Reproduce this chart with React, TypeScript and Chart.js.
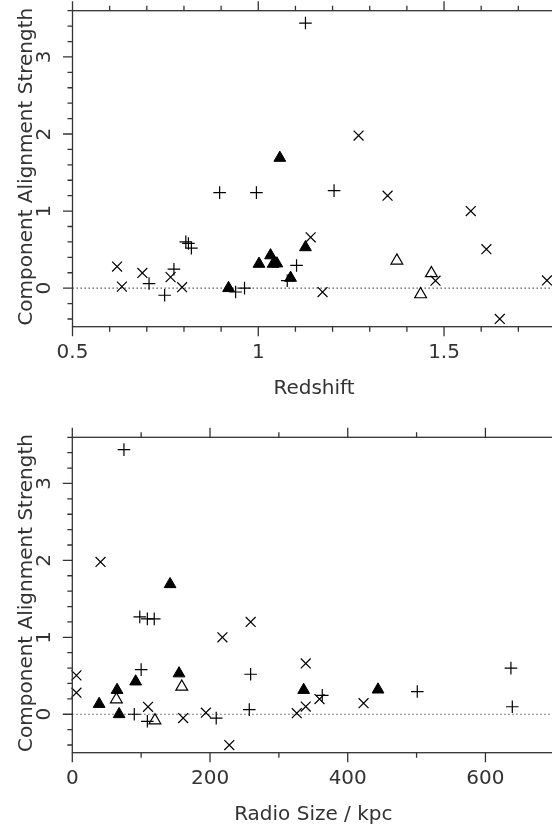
import React, { useEffect, useRef } from "react";
import { Chart, registerables } from "chart.js";
Chart.register(...registerables);

// ---- data: "+" sources ----
const plusRedshift = [1.127, 0.896, 0.995, 1.204, 0.805, 0.812, 0.82, 0.773, 0.706, 0.748, 0.939, 0.963, 1.103, 1.078];
const plusSize = [75, 109, 119, 98, 637, 100, 259, 363, 257, 109, 209, 90, 501, 639];
const plusStrength = [3.44, 1.24, 1.24, 1.265, 0.6, 0.58, 0.52, 0.246, 0.06, -0.092, -0.05, 0.0, 0.295, 0.097];

// ---- data: "x" sources ----
const crossRedshift = [0.62, 0.633, 0.688, 0.764, 0.795, 1.141, 1.27, 1.348, 1.572, 1.614, 1.173, 1.477, 1.65, 1.777];
const crossSize = [6, 194, 359, 423, 326, 339, 41, 259, 218, 6, 161, 110, 228, 339];
const crossStrength = [0.28, 0.02, 0.197, 0.143, 0.013, 0.66, 1.98, 1.2, 1.0, 0.505, -0.05, 0.097, -0.4, 0.1];

// ---- data: filled triangles ----
const filledRedshift = [1.058, 1.127, 1.033, 1.002, 1.04, 1.05, 1.087, 0.92];
const filledSize = [142, 155, 92, 65, 336, 444, 39, 68];
const filledStrength = [1.69, 0.53, 0.425, 0.315, 0.315, 0.32, 0.133, 0.0];

// ---- data: open triangles ----
const openRedshift = [1.373, 1.466, 1.437];
const openSize = [159, 64, 120];
const openStrength = [0.357, 0.193, -0.08];

// ---- axes ----
const strengthMajorTicks = [0, 1, 2, 3];
const strengthTickLabels = ["0", "1", "2", "3"];
const strengthMin = -0.5;
const strengthMax = 3.6;
const strengthMinorStep = 0.2;

const redshiftMajorTicks = [0.5, 1, 1.5];
const redshiftTickLabels = ["0.5", "1", "1.5"];
const redshiftMin = 0.5;
const redshiftMax = 1.8;
const redshiftMinorStep = 0.1;

const sizeMajorTicks = [0, 200, 400, 600];
const sizeTickLabels = ["0", "200", "400", "600"];
const sizeMin = 0;
const sizeMax = 700;
const sizeMinorStep = 100;

const yTitle = "Component Alignment Strength";
const xTitleTop = "Redshift";
const xTitleBottom = "Radio Size / kpc";

const FONT = '20px "DejaVu Sans"';
const TEXT = "#333";
const LINE = "#333";

function pts(xs: number[], ys: number[]) {
  return xs.map((x, i) => ({ x, y: ys[i] }));
}

function makeDatasets(px: number[], cx: number[], fx: number[], ox: number[]) {
  return [
    {
      data: pts(px, plusStrength),
      pointStyle: "cross",
      pointRadius: 6.3,
      pointBorderColor: "#000",
      pointBorderWidth: 1.2,
      pointBackgroundColor: "#000",
      showLine: false,
      clip: false,
    },
    {
      data: pts(cx, crossStrength),
      pointStyle: "crossRot",
      pointRadius: 7,
      pointBorderColor: "#000",
      pointBorderWidth: 1.2,
      pointBackgroundColor: "#000",
      showLine: false,
      clip: false,
    },
    {
      data: pts(fx, filledStrength),
      pointStyle: "triangle",
      pointRadius: 6.8,
      pointBorderColor: "#000",
      pointBorderWidth: 1,
      pointBackgroundColor: "#000",
      showLine: false,
      clip: false,
    },
    {
      data: pts(ox, openStrength),
      pointStyle: "triangle",
      pointRadius: 6.8,
      pointBorderColor: "#000",
      pointBorderWidth: 1.2,
      pointBackgroundColor: "rgba(255,255,255,0)",
      showLine: false,
      clip: false,
    },
  ];
}

type PanelProps = {
  top: number;
  padding: { left: number; right: number; top: number; bottom: number };
  xMin: number;
  xMax: number;
  xMajor: number[];
  xLabels: string[];
  xMinorStep: number;
  xTitle: string;
  datasets: any[];
};

function range(min: number, max: number, step: number) {
  const out: number[] = [];
  const n = Math.round((max - min) / step);
  for (let i = 0; i <= n; i++) out.push(+(min + i * step).toFixed(6));
  return out;
}

function Panel(props: PanelProps) {
  const ref = useRef<HTMLCanvasElement | null>(null);
  useEffect(() => {
    if (!ref.current) return;
    const framePlugin = {
      id: "frame",
      beforeDatasetsDraw(chart: any) {
        const { ctx, chartArea: a, scales } = chart;
        const y0 = scales.y.getPixelForValue(0);
        ctx.save();
        ctx.strokeStyle = "#444";
        ctx.lineWidth = 1.2;
        ctx.setLineDash([1.3, 2.7]);
        ctx.beginPath();
        ctx.moveTo(a.left, y0);
        ctx.lineTo(a.right, y0);
        ctx.stroke();
        ctx.restore();
      },
      afterDatasetsDraw(chart: any) {
        const { ctx, chartArea: a, scales } = chart;
        const xs = scales.x;
        const ys = scales.y;
        ctx.save();
        ctx.strokeStyle = LINE;
        ctx.lineWidth = 1.3;
        ctx.strokeRect(a.left, a.top, a.right - a.left, a.bottom - a.top);
        const MAJ = 9.5;
        const MIN = 5;
        ctx.beginPath();
        // x ticks
        range(props.xMin, props.xMax, props.xMinorStep).forEach((v) => {
          const isMaj = props.xMajor.some((m) => Math.abs(m - v) < 1e-6);
          const len = isMaj ? MAJ : MIN;
          const px = xs.getPixelForValue(v);
          ctx.moveTo(px, a.bottom);
          ctx.lineTo(px, a.bottom + len);
          ctx.moveTo(px, a.top);
          ctx.lineTo(px, a.top - len);
        });
        // y ticks
        range(strengthMin + 0.1, strengthMax, strengthMinorStep).forEach((v) => {
          const isMaj = strengthMajorTicks.some((m) => Math.abs(m - v) < 1e-6);
          const len = isMaj ? MAJ : MIN;
          const py = ys.getPixelForValue(v);
          ctx.moveTo(a.left, py);
          ctx.lineTo(a.left - len, py);
          ctx.moveTo(a.right, py);
          ctx.lineTo(a.right + len, py);
        });
        ctx.stroke();

        // labels
        ctx.fillStyle = TEXT;
        ctx.font = FONT;
        ctx.textAlign = "center";
        ctx.textBaseline = "alphabetic";
        props.xMajor.forEach((v, i) => {
          ctx.fillText(props.xLabels[i], xs.getPixelForValue(v), a.bottom + 31.5);
        });
        ctx.fillText(props.xTitle, (a.left + a.right) / 2, a.bottom + 67.5);
        strengthMajorTicks.forEach((v, i) => {
          ctx.save();
          ctx.translate(a.left - 22.5, ys.getPixelForValue(v));
          ctx.rotate(-Math.PI / 2);
          ctx.fillText(strengthTickLabels[i], 0, 0);
          ctx.restore();
        });
        ctx.save();
        ctx.translate(a.left - 40.3, (a.top + a.bottom) / 2 - 2);
        ctx.rotate(-Math.PI / 2);
        ctx.fillText(yTitle, 0, 0);
        ctx.restore();
        ctx.restore();
      },
    };
    const chart = new Chart(ref.current, {
      type: "scatter",
      data: { datasets: props.datasets },
      options: {
        animation: false,
        responsive: false,
        events: [],
        layout: { padding: props.padding, autoPadding: false },
        plugins: { legend: { display: false }, tooltip: { enabled: false } },
        scales: {
          x: { type: "linear", min: props.xMin, max: props.xMax, display: false },
          y: { type: "linear", min: strengthMin, max: strengthMax, display: false },
        },
      },
      plugins: [framePlugin],
    } as any);
    return () => chart.destroy();
  }, []);
  return (
    <canvas
      ref={ref}
      width={556}
      height={413}
      style={{ position: "absolute", left: 0, top: props.top, width: 556, height: 413 }}
    />
  );
}

export default function App() {
  return (
    <div
      style={{
        position: "absolute",
        left: 0,
        top: 0,
        width: 552,
        height: 826,
        overflow: "hidden",
        background: "#fff",
      }}
    >
      <Panel
        top={0}
        padding={{ left: 72.5, right: 0.5, top: 10.7, bottom: 86.3 }}
        xMin={redshiftMin}
        xMax={redshiftMax}
        xMajor={redshiftMajorTicks}
        xLabels={redshiftTickLabels}
        xMinorStep={redshiftMinorStep}
        xTitle={xTitleTop}
        datasets={makeDatasets(plusRedshift, crossRedshift, filledRedshift, openRedshift)}
      />
      <Panel
        top={413}
        padding={{ left: 72.3, right: 1.7, top: 24.3, bottom: 73.3 }}
        xMin={sizeMin}
        xMax={sizeMax}
        xMajor={sizeMajorTicks}
        xLabels={sizeTickLabels}
        xMinorStep={sizeMinorStep}
        xTitle={xTitleBottom}
        datasets={makeDatasets(plusSize, crossSize, filledSize, openSize)}
      />
    </div>
  );
}
